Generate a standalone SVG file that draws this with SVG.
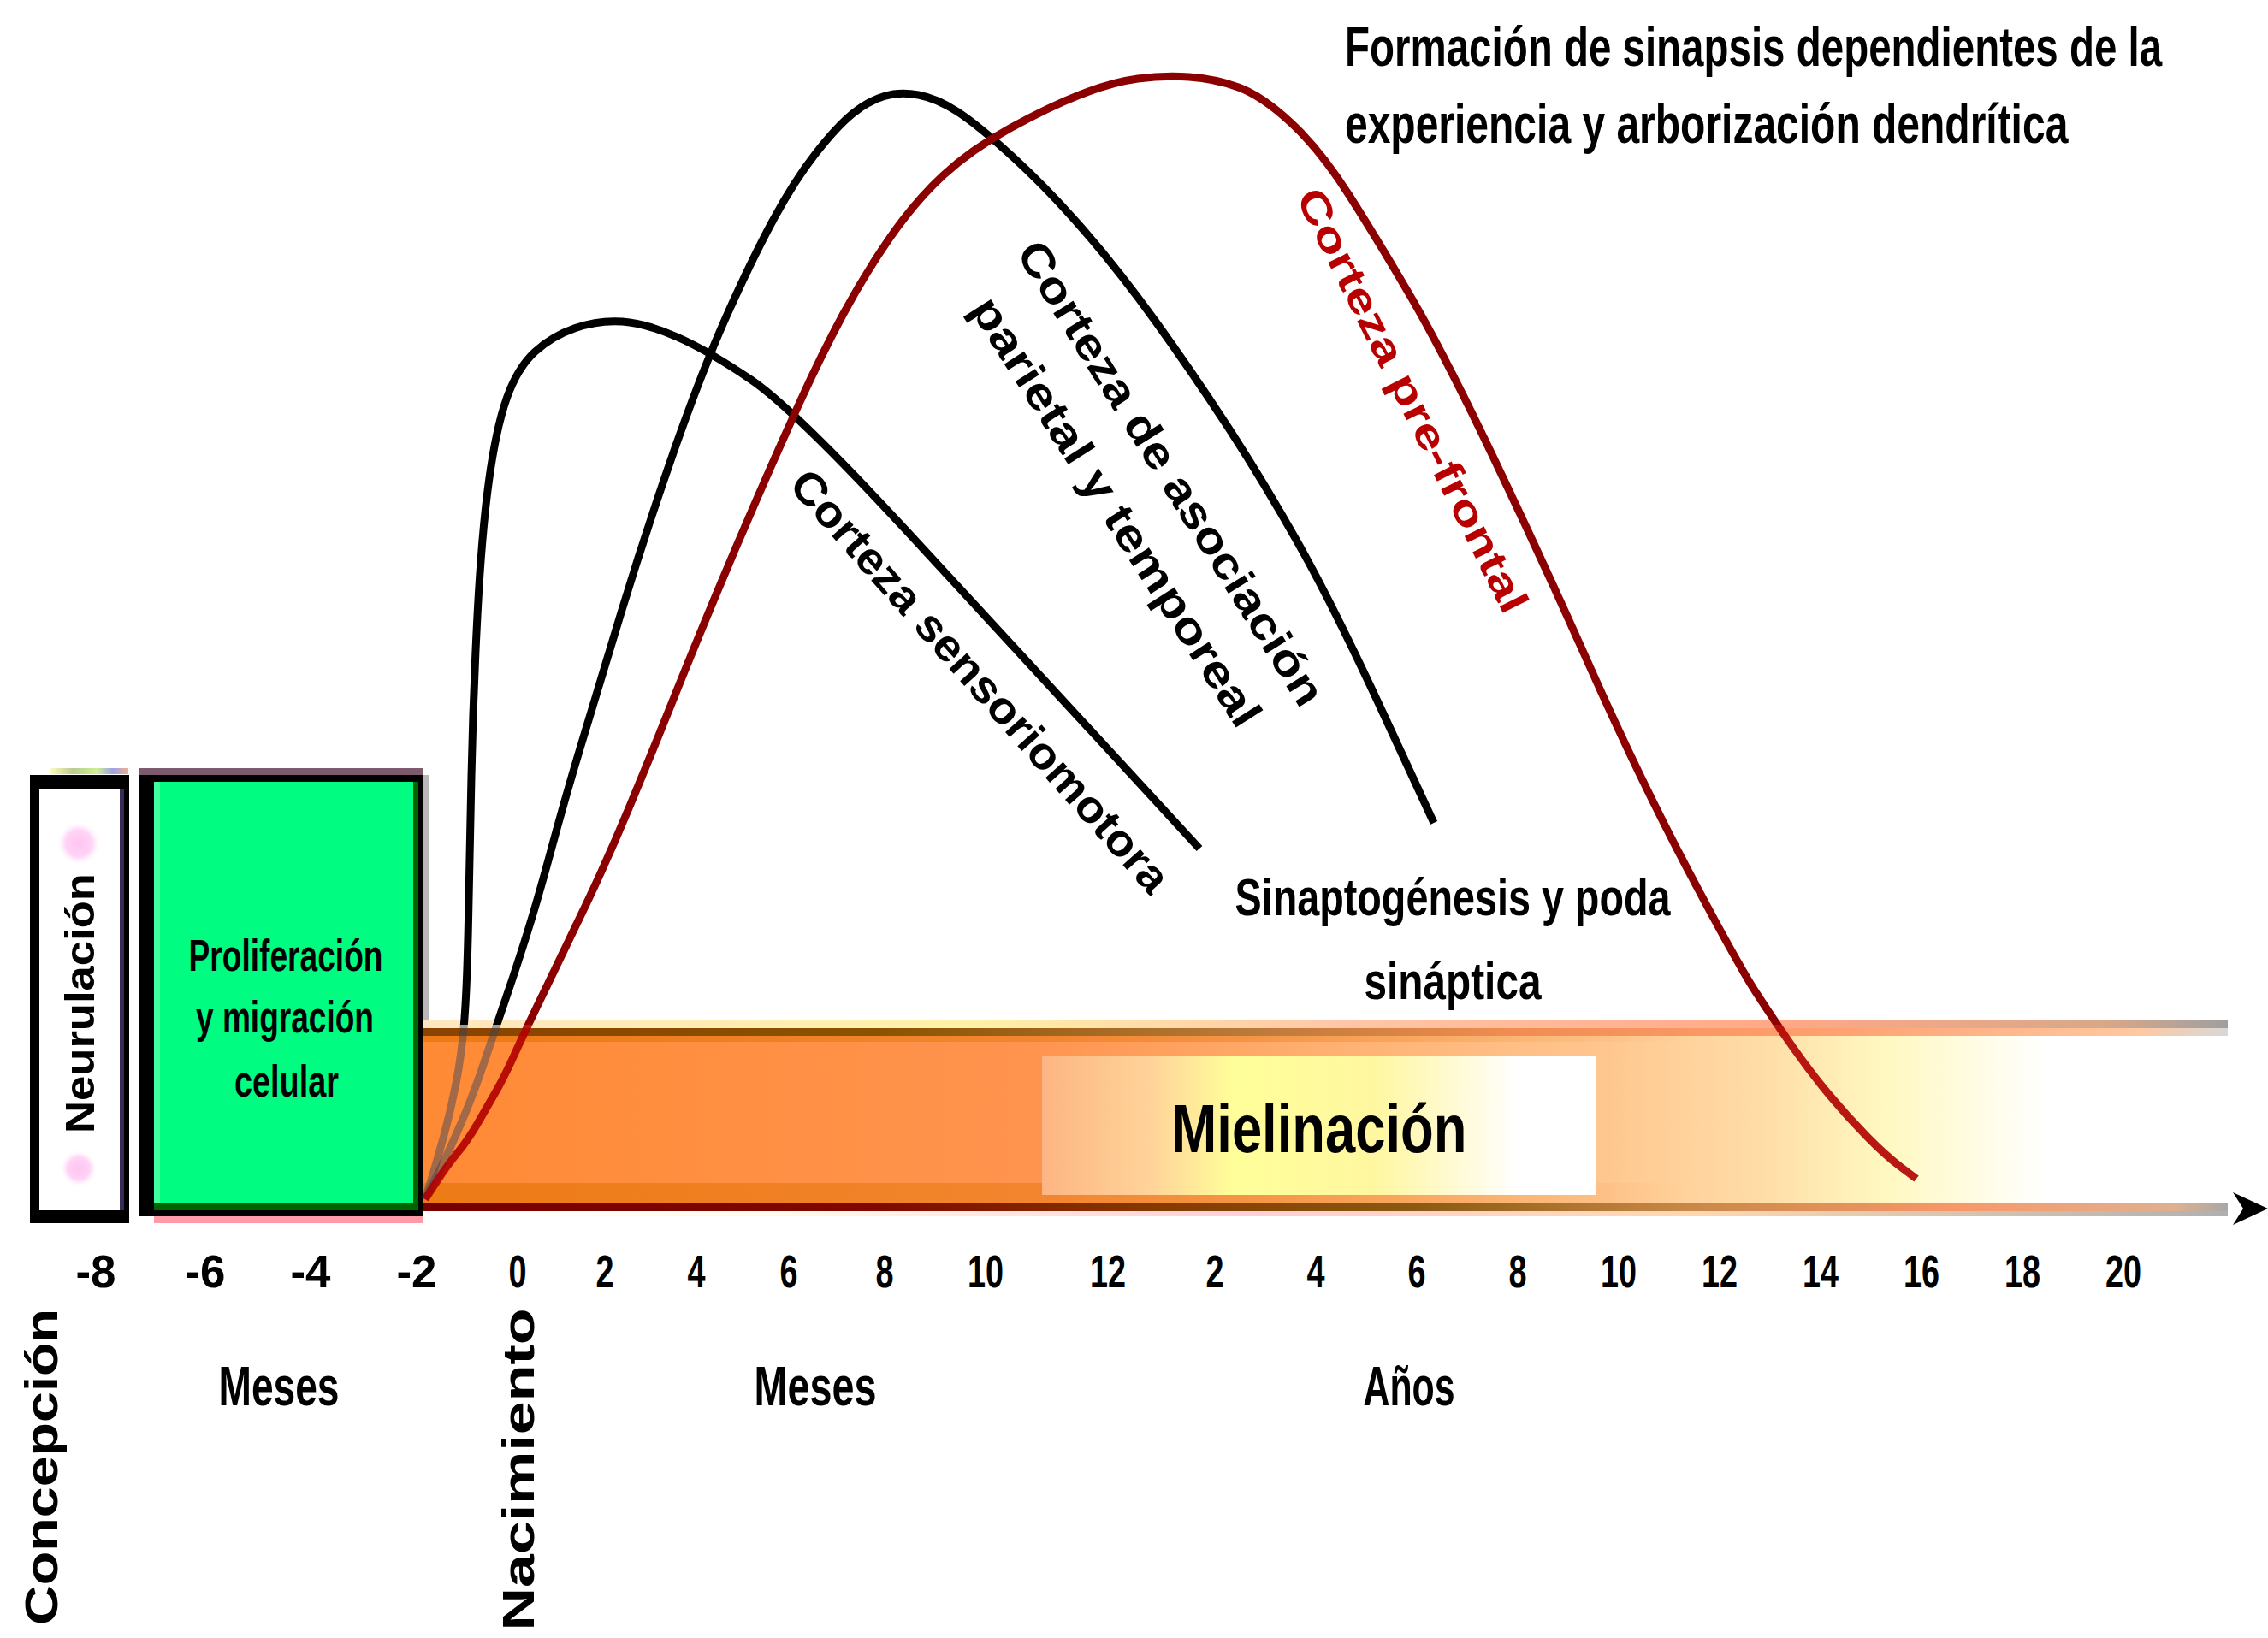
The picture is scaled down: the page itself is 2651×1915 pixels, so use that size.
<svg xmlns="http://www.w3.org/2000/svg" width="2651" height="1915" viewBox="0 0 2651 1915">
<style>
.t{font-family:"Liberation Sans",Arial,sans-serif;font-weight:bold;fill:#000}
.tick{font-size:54px;text-anchor:middle}
.big{font-size:64px}
.lab{font-size:52px}
.crv{fill:none;stroke-width:9;stroke-linecap:butt;stroke-linejoin:round}
.blk{stroke:#000}
.red{stroke:#8b0000}
</style>
<defs>
<linearGradient id="bandFill" x1="494" y1="0" x2="2604" y2="0" gradientUnits="userSpaceOnUse">
<stop offset="0" stop-color="#ff8a35"/>
<stop offset="0.34" stop-color="#ff944f"/>
<stop offset="0.5" stop-color="#ffb070"/>
<stop offset="0.65" stop-color="#ffc58e"/>
<stop offset="0.74" stop-color="#ffdca6"/>
<stop offset="0.81" stop-color="#fff8c0"/>
<stop offset="0.9" stop-color="#ffffff"/>
<stop offset="1" stop-color="#ffffff"/>
</linearGradient>
<linearGradient id="topLight" x1="494" y1="0" x2="2604" y2="0" gradientUnits="userSpaceOnUse">
<stop offset="0" stop-color="#ffe6c0"/>
<stop offset="0.3" stop-color="#fff2a8"/>
<stop offset="0.5" stop-color="#ffc8a8"/>
<stop offset="0.75" stop-color="#ffa888"/>
<stop offset="0.93" stop-color="#d8a888"/>
<stop offset="1" stop-color="#a0a0a0"/>
</linearGradient>
<linearGradient id="topDark" x1="494" y1="0" x2="2604" y2="0" gradientUnits="userSpaceOnUse">
<stop offset="0" stop-color="#8a4200"/>
<stop offset="0.25" stop-color="#8a5200"/>
<stop offset="0.45" stop-color="#b87838"/>
<stop offset="0.6" stop-color="#f08c50"/>
<stop offset="0.78" stop-color="#ffa070"/>
<stop offset="0.95" stop-color="#ffc8a0"/>
<stop offset="1" stop-color="#d8d8d8"/>
</linearGradient>
<linearGradient id="botDark" x1="494" y1="0" x2="2604" y2="0" gradientUnits="userSpaceOnUse">
<stop offset="0" stop-color="#780000"/>
<stop offset="0.25" stop-color="#800800"/>
<stop offset="0.4" stop-color="#843800"/>
<stop offset="0.55" stop-color="#8b5a10"/>
<stop offset="0.7" stop-color="#c88848"/>
<stop offset="0.85" stop-color="#f89868"/>
<stop offset="0.97" stop-color="#e0b090"/>
<stop offset="1" stop-color="#a8a8a8"/>
</linearGradient>
<linearGradient id="botLight" x1="494" y1="0" x2="2604" y2="0" gradientUnits="userSpaceOnUse">
<stop offset="0" stop-color="#ffffff"/>
<stop offset="0.2" stop-color="#fffbe8"/>
<stop offset="0.45" stop-color="#ffd0d8"/>
<stop offset="0.7" stop-color="#ffd8b0"/>
<stop offset="1" stop-color="#b0b0b0"/>
</linearGradient>
<linearGradient id="edgeFade" x1="494" y1="0" x2="2604" y2="0" gradientUnits="userSpaceOnUse">
<stop offset="0" stop-color="#e07000" stop-opacity="0.6"/>
<stop offset="0.45" stop-color="#e07000" stop-opacity="0.35"/>
<stop offset="0.7" stop-color="#e07000" stop-opacity="0"/>
</linearGradient>
<linearGradient id="mielBox" x1="1218" y1="0" x2="1866" y2="0" gradientUnits="userSpaceOnUse">
<stop offset="0" stop-color="#fdb583"/>
<stop offset="0.2" stop-color="#ffd49a"/>
<stop offset="0.35" stop-color="#ffff9a"/>
<stop offset="0.6" stop-color="#fff7a0"/>
<stop offset="0.78" stop-color="#fffbe0"/>
<stop offset="0.86" stop-color="#ffffff"/>
<stop offset="1" stop-color="#ffffff"/>
</linearGradient>
<radialGradient id="pinkDot">
<stop offset="0" stop-color="#ffc4f2"/>
<stop offset="0.6" stop-color="#ffd4f6"/>
<stop offset="1" stop-color="#ffffff" stop-opacity="0"/>
</radialGradient>
<linearGradient id="neuTop" x1="58" y1="0" x2="150" y2="0" gradientUnits="userSpaceOnUse">
<stop offset="0" stop-color="#fffcc0"/>
<stop offset="0.3" stop-color="#b8cc90"/>
<stop offset="0.6" stop-color="#d0f090"/>
<stop offset="0.8" stop-color="#a0a0e8"/>
<stop offset="1" stop-color="#f0b090"/>
</linearGradient>
<clipPath id="above"><rect x="0" y="0" width="2651" height="1198"/></clipPath>
<clipPath id="inband"><rect x="0" y="1198" width="2651" height="240"/></clipPath>
<path id="cSens" d="M497,1402 L503.5,1381 Q510,1360 518.5,1329 Q527,1298 533.5,1264 Q540,1230 543,1190 Q546,1150 547.5,1075 Q549,1000 551,907.5 Q553,815 558,719.5 Q563,624 571.5,562 Q580,500 592.5,465 Q605,430 625,411.5 Q645,393 672.5,383.5 Q700,374 727.5,376 Q755,378 791.5,394 Q828,410 878,444 Q928,478 1061.5,622.5 Q1195,767 1298.5,879.5 L1402,992"/>
<path id="cPar" d="M497,1402 L504.5,1387 Q512,1372 522,1351 Q532,1330 544,1301 Q556,1272 568,1236 Q580,1200 592,1165 Q604,1130 616.5,1090 Q629,1050 644.5,992.5 Q660,935 678,875 Q696,815 725,719.5 Q754,624 787,529.5 Q820,435 849,370 Q878,305 903,258.5 Q928,212 953,180 Q978,148 996.5,133 Q1015,118 1033.5,112.5 Q1052,107 1073.5,111 Q1095,115 1119,130.5 Q1143,146 1184.5,184 Q1226,222 1267.5,270 Q1309,318 1350.5,375.5 Q1392,433 1433.5,496.5 Q1475,560 1516.5,633.5 Q1558,707 1617,834.5 L1676,962"/>
<path id="cPre" d="M497,1402 L510,1382 Q523,1362 535,1347.5 Q547,1333 558.5,1313 Q570,1293 580,1275.5 Q590,1258 601.5,1232.5 Q613,1207 636.5,1158.5 Q660,1110 685,1057.5 Q710,1005 735,945 Q760,885 785,822.5 Q810,760 835,700 Q860,640 885,582.5 Q910,525 935,470 Q960,415 985.5,367.5 Q1011,320 1040.5,277.5 Q1070,235 1102.5,205 Q1135,175 1180.5,150 Q1226,125 1263,110.5 Q1300,96 1330,92 Q1360,88 1390,90 Q1420,92 1447.5,102 Q1475,112 1509,143.5 Q1543,175 1576.5,227.5 Q1610,280 1648.5,346 Q1687,412 1744.5,532.5 Q1802,653 1859.5,782 Q1917,911 1974,1019 Q2031,1127 2053,1161 Q2075,1195 2096.5,1225.5 Q2118,1256 2139,1281 Q2160,1306 2182,1328.5 Q2204,1351 2222,1364.5 L2240,1378"/>
</defs>
<rect width="2651" height="1915" fill="#ffffff"/>

<g id="node-neurulacion">
<rect x="58" y="898" width="92" height="7" fill="url(#neuTop)"/>
<rect x="35" y="906" width="116" height="524" fill="#000"/>
<rect x="46" y="923" width="99" height="492" fill="#3c2a5a"/>
<rect x="46" y="923" width="94" height="492" fill="#fff"/>
<circle cx="92" cy="986" r="26" fill="url(#pinkDot)"/>
<circle cx="92" cy="1366" r="22" fill="url(#pinkDot)"/>
<text class="t" x="110" y="1173" font-size="48" text-anchor="middle" textLength="304" lengthAdjust="spacingAndGlyphs" transform="rotate(-90 110 1173)">Neurulación</text>
</g>

<g id="node-proliferacion">
<rect x="163" y="898" width="332" height="8" fill="#7e5a6e"/>
<rect x="163" y="906" width="332" height="516" fill="#000"/>
<rect x="180" y="914" width="309" height="501" fill="#006400"/>
<rect x="180" y="914" width="303" height="493" fill="#00fc80"/>
<rect x="180" y="914" width="7" height="493" fill="#40ff9c"/>
<rect x="180" y="1422" width="315" height="8" fill="#ff9aa8"/>
<rect x="495" y="906" width="6" height="291" fill="#b8b8b8"/>
<text class="t lab" x="334" y="1135" text-anchor="middle" textLength="227" lengthAdjust="spacingAndGlyphs">Proliferación</text>
<text class="t lab" x="333" y="1207" text-anchor="middle" textLength="208" lengthAdjust="spacingAndGlyphs">y migración</text>
<text class="t lab" x="335" y="1282" text-anchor="middle" textLength="122" lengthAdjust="spacingAndGlyphs">celular</text>
</g>

<g id="node-mielinacion">
<rect x="494" y="1193" width="2110" height="9" fill="url(#topLight)"/>
<rect x="494" y="1202" width="2110" height="9" fill="url(#topDark)"/>
<rect x="494" y="1211" width="2110" height="196" fill="url(#bandFill)"/>
<rect x="494" y="1211" width="2110" height="7" fill="url(#edgeFade)"/>
<rect x="494" y="1383" width="2110" height="24" fill="url(#edgeFade)"/>
<rect x="494" y="1407" width="2110" height="9" fill="url(#botDark)"/>
<rect x="494" y="1416" width="2110" height="6" fill="url(#botLight)"/>
<rect x="1218" y="1234" width="648" height="163" fill="url(#mielBox)"/>
<text class="t" x="1542" y="1347" font-size="80" text-anchor="middle" textLength="345" lengthAdjust="spacingAndGlyphs">Mielinación</text>
</g>

<g id="connectors">
<g clip-path="url(#above)">
<use href="#cSens" class="crv blk"/>
<use href="#cPar" class="crv blk"/>
<use href="#cPre" class="crv red"/>
</g>
<g clip-path="url(#inband)">
<use href="#cSens" class="crv" stroke="#304060" opacity="0.45"/>
<use href="#cPar" class="crv" stroke="#304060" opacity="0.45"/>
<use href="#cPre" class="crv" stroke="#b00000" opacity="0.9"/>
</g>
</g>

<g id="labels">
<text class="t" x="1651" y="468" font-size="48" style="fill:#b80000" text-anchor="middle" dominant-baseline="central" textLength="548" lengthAdjust="spacingAndGlyphs" transform="rotate(63.5 1651 468)">Corteza pre-frontal</text>
<text class="t" x="1369" y="553" font-size="52" text-anchor="middle" dominant-baseline="central" textLength="630" lengthAdjust="spacingAndGlyphs" transform="rotate(58 1369 553)">Corteza  de  asociación</text>
<text class="t" x="1305" y="598" font-size="52" text-anchor="middle" dominant-baseline="central" textLength="585" lengthAdjust="spacingAndGlyphs" transform="rotate(57.5 1305 598)">parietal y temporeal</text>
<text class="t" x="1146" y="796" font-size="52" text-anchor="middle" dominant-baseline="central" textLength="640" lengthAdjust="spacingAndGlyphs" transform="rotate(48.5 1146 796)">Corteza  sensoriomotora</text>
<text class="t big" x="0" y="0" transform="translate(1572 77) scale(0.742 1)">Formación de sinapsis dependientes de la</text>
<text class="t big" x="0" y="0" transform="translate(1572 167) scale(0.75 1)">experiencia y arborización dendrítica</text>
<text class="t" x="1698" y="1070" font-size="62" text-anchor="middle" textLength="509" lengthAdjust="spacingAndGlyphs">Sinaptogénesis y poda</text>
<text class="t" x="1698" y="1168" font-size="62" text-anchor="middle" textLength="207" lengthAdjust="spacingAndGlyphs">sináptica</text>
</g>

<g id="axis">
<path d="M2651,1413 L2610,1394 L2622,1413 L2610,1432 Z" fill="#000"/>
<text class="t tick" x="112" y="1505" textLength="47" lengthAdjust="spacingAndGlyphs">-8</text>
<text class="t tick" x="240" y="1505" textLength="47" lengthAdjust="spacingAndGlyphs">-6</text>
<text class="t tick" x="363" y="1505" textLength="47" lengthAdjust="spacingAndGlyphs">-4</text>
<text class="t tick" x="487" y="1505" textLength="47" lengthAdjust="spacingAndGlyphs">-2</text>
<text class="t tick" x="605" y="1505" textLength="21" lengthAdjust="spacingAndGlyphs">0</text>
<text class="t tick" x="707" y="1505" textLength="21" lengthAdjust="spacingAndGlyphs">2</text>
<text class="t tick" x="814" y="1505" textLength="21" lengthAdjust="spacingAndGlyphs">4</text>
<text class="t tick" x="922" y="1505" textLength="21" lengthAdjust="spacingAndGlyphs">6</text>
<text class="t tick" x="1034" y="1505" textLength="21" lengthAdjust="spacingAndGlyphs">8</text>
<text class="t tick" x="1152" y="1505" textLength="42" lengthAdjust="spacingAndGlyphs">10</text>
<text class="t tick" x="1295" y="1505" textLength="42" lengthAdjust="spacingAndGlyphs">12</text>
<text class="t tick" x="1420" y="1505" textLength="21" lengthAdjust="spacingAndGlyphs">2</text>
<text class="t tick" x="1538" y="1505" textLength="21" lengthAdjust="spacingAndGlyphs">4</text>
<text class="t tick" x="1656" y="1505" textLength="21" lengthAdjust="spacingAndGlyphs">6</text>
<text class="t tick" x="1774" y="1505" textLength="21" lengthAdjust="spacingAndGlyphs">8</text>
<text class="t tick" x="1892" y="1505" textLength="42" lengthAdjust="spacingAndGlyphs">10</text>
<text class="t tick" x="2010" y="1505" textLength="42" lengthAdjust="spacingAndGlyphs">12</text>
<text class="t tick" x="2128" y="1505" textLength="42" lengthAdjust="spacingAndGlyphs">14</text>
<text class="t tick" x="2246" y="1505" textLength="42" lengthAdjust="spacingAndGlyphs">16</text>
<text class="t tick" x="2364" y="1505" textLength="42" lengthAdjust="spacingAndGlyphs">18</text>
<text class="t tick" x="2482" y="1505" textLength="42" lengthAdjust="spacingAndGlyphs">20</text>
<text class="t big" x="326" y="1643" text-anchor="middle" textLength="141" lengthAdjust="spacingAndGlyphs">Meses</text>
<text class="t big" x="953" y="1643" text-anchor="middle" textLength="143" lengthAdjust="spacingAndGlyphs">Meses</text>
<text class="t big" x="1647" y="1643" text-anchor="middle" textLength="107" lengthAdjust="spacingAndGlyphs">Años</text>
<text class="t" x="67" y="1715" font-size="54" text-anchor="middle" textLength="370" lengthAdjust="spacingAndGlyphs" transform="rotate(-90 67 1715)">Concepción</text>
<text class="t" x="624" y="1718" font-size="52" text-anchor="middle" textLength="377" lengthAdjust="spacingAndGlyphs" transform="rotate(-90 624 1718)">Nacimiento</text>
</g>
</svg>
